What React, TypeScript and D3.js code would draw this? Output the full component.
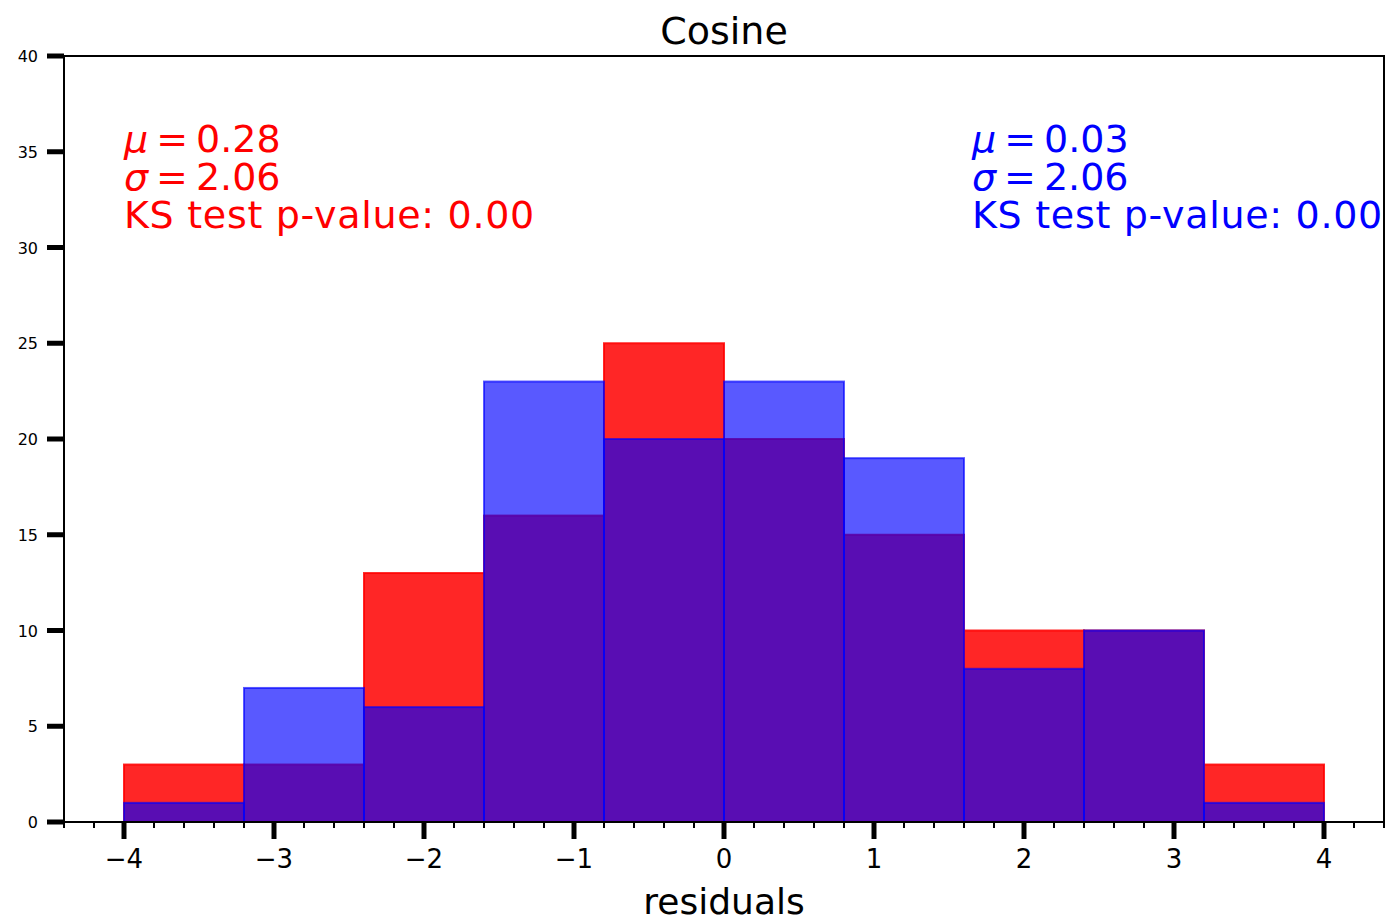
import React, { useRef, useEffect } from 'react';
import * as d3 from 'd3';

const binEdges = [-4, -3.2, -2.4, -1.6, -0.8, 0, 0.8, 1.6, 2.4, 3.2, 4];
const redCounts = [3, 3, 13, 16, 25, 20, 15, 10, 10, 3];
const blueCounts = [1, 7, 6, 23, 20, 23, 19, 8, 10, 1];
const xTicks = [-4, -3, -2, -1, 0, 1, 2, 3, 4];
const yTicks = [0, 5, 10, 15, 20, 25, 30, 35, 40];
const redStats = ['0.28', '2.06', '0.00'];
const blueStats = ['0.03', '2.06', '0.00'];

const W = 1399;
const H = 920;
const FONT = '"DejaVu Sans", sans-serif';

const App: React.FC = () => {
  const svgRef = useRef<SVGSVGElement | null>(null);

  useEffect(() => {
    const margin = { left: 64, right: 15, top: 56, bottom: 98 };
    const svg = d3.select(svgRef.current).attr('width', W).attr('height', H);
    svg.selectAll('*').remove();

    const x = d3.scaleLinear().domain([-4.4, 4.4]).range([margin.left, W - margin.right]);
    const y = d3.scaleLinear().domain([0, 40]).range([H - margin.bottom, margin.top]);

    const drawBars = (counts: number[], color: string, alpha: number) => {
      svg
        .append('g')
        .selectAll('rect')
        .data(counts)
        .enter()
        .append('rect')
        .attr('x', (d, i) => x(binEdges[i]))
        .attr('width', (d, i) => x(binEdges[i + 1]) - x(binEdges[i]))
        .attr('y', d => y(d))
        .attr('height', d => y(0) - y(d))
        .attr('fill', color)
        .attr('fill-opacity', alpha)
        .attr('stroke', color)
        .attr('stroke-opacity', alpha)
        .attr('stroke-width', 2);
    };

    drawBars(redCounts, '#ff0000', 0.85);
    drawBars(blueCounts, '#0000ff', 0.65);

    // frame
    svg
      .append('rect')
      .attr('x', x(-4.4))
      .attr('y', y(40))
      .attr('width', x(4.4) - x(-4.4))
      .attr('height', y(0) - y(40))
      .attr('fill', 'none')
      .attr('stroke', '#000')
      .attr('stroke-width', 2);

    // x axis ticks
    const minorTicks = d3.range(-44, 45, 2).map(v => v / 10).filter(v => Math.abs(v - Math.round(v)) > 1e-6);
    svg
      .append('g')
      .selectAll('line')
      .data(minorTicks)
      .enter()
      .append('line')
      .attr('x1', d => x(d))
      .attr('x2', d => x(d))
      .attr('y1', y(0))
      .attr('y2', y(0) + 6)
      .attr('stroke', '#000')
      .attr('stroke-width', 2);

    const xg = svg.append('g');
    xg.selectAll('line')
      .data(xTicks)
      .enter()
      .append('line')
      .attr('x1', d => x(d))
      .attr('x2', d => x(d))
      .attr('y1', y(0))
      .attr('y2', y(0) + 17)
      .attr('stroke', '#000')
      .attr('stroke-width', 5);
    xg.selectAll('text')
      .data(xTicks)
      .enter()
      .append('text')
      .attr('x', d => x(d))
      .attr('y', y(0) + 46)
      .attr('text-anchor', 'middle')
      .attr('font-family', FONT)
      .attr('font-size', 26)
      .text(d => (d < 0 ? '\u2212' + Math.abs(d) : String(d)));

    // y axis ticks
    const yg = svg.append('g');
    yg.selectAll('line')
      .data(yTicks)
      .enter()
      .append('line')
      .attr('x1', x(-4.4) - 17)
      .attr('x2', x(-4.4))
      .attr('y1', d => y(d))
      .attr('y2', d => y(d))
      .attr('stroke', '#000')
      .attr('stroke-width', 5);
    yg.selectAll('text')
      .data(yTicks)
      .enter()
      .append('text')
      .attr('x', x(-4.4) - 26)
      .attr('y', d => y(d) + 6)
      .attr('text-anchor', 'end')
      .attr('font-family', FONT)
      .attr('font-size', 16)
      .text(d => String(d));

    // title and label
    svg
      .append('text')
      .attr('x', (x(-4.4) + x(4.4)) / 2)
      .attr('y', 44)
      .attr('text-anchor', 'middle')
      .attr('font-family', FONT)
      .attr('font-size', 38)
      .text('Cosine');
    svg
      .append('text')
      .attr('x', (x(-4.4) + x(4.4)) / 2)
      .attr('y', 914)
      .attr('text-anchor', 'middle')
      .attr('font-family', FONT)
      .attr('font-size', 36)
      .text('residuals');

    const drawStats = (stats: string[], left: number, color: string) => {
      const g = svg.append('g').attr('font-family', FONT).attr('font-size', 38).attr('fill', color);
      const sym = ['\u03bc', '\u03c3'];
      [0, 1].forEach(i => {
        const t = g.append('text').attr('x', left).attr('y', 152 + i * 38);
        t.append('tspan').attr('font-style', 'italic').text(sym[i]);
        t.append('tspan').attr('dx', 8).text('=');
        t.append('tspan').attr('dx', 8).text(stats[i]);
      });
      g.append('text')
        .attr('x', left)
        .attr('y', 228)
        .attr('letter-spacing', 0.7)
        .text(`KS test p-value: ${stats[2]}`);
    };
    drawStats(redStats, x(-4), '#ff0000');
    drawStats(blueStats, 972, '#0000ff');
  }, []);

  return <svg ref={svgRef} style={{ position: 'absolute', left: 0, top: 0, background: '#fff' }}></svg>;
};

export default App;
